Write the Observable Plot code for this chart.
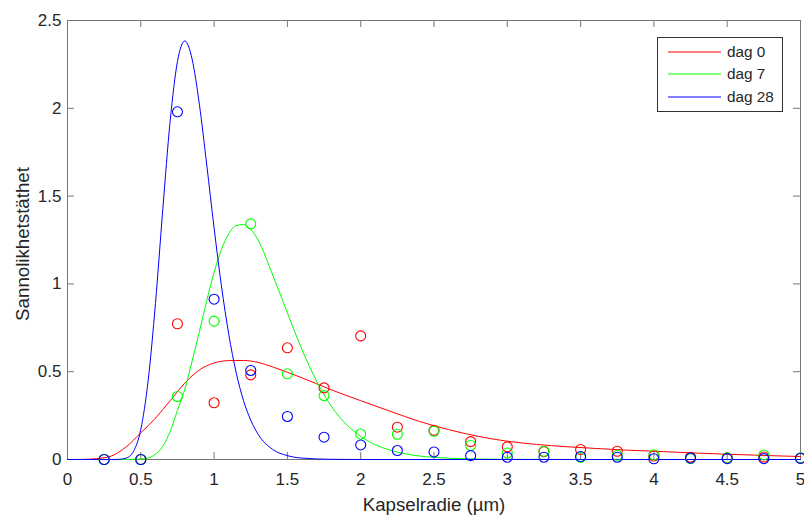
<!DOCTYPE html>
<html>
<head>
<meta charset="utf-8">
<script src="https://cdn.jsdelivr.net/npm/d3@7"></script>
<script src="https://cdn.jsdelivr.net/npm/@observablehq/plot@0.6"></script>
<style>
  body { margin: 0; background: #fff; }
  #wrap { position: relative; width: 804px; height: 516px; }
  #legend { position: absolute; left: 657px; top: 37px; }
</style>
</head>
<body>
<div id="wrap"></div>
<script>
// ---- Data ----
const seriesNames = ["dag 0", "dag 7", "dag 28"];
const seriesColors = ["#ff0000", "#00ff00", "#0000ff"];
const xTicks = [0, 0.5, 1, 1.5, 2, 2.5, 3, 3.5, 4, 4.5, 5];
const yTicks = [0, 0.5, 1, 1.5, 2, 2.5];
const xLabel = "Kapselradie (µm)";
const yLabel = "Sannolikhetstäthet";

// observed points (circles)
const sampleX = [0.25, 0.5, 0.75, 1, 1.25, 1.5, 1.75, 2, 2.25, 2.5, 2.75, 3, 3.25, 3.5, 3.75, 4, 4.25, 4.5, 4.75, 5];
const obsDag0  = [0, 0, 0.773, 0.323, 0.482, 0.636, 0.408, 0.704, 0.184, 0.166, 0.102, 0.072, 0.045, 0.057, 0.047, 0.020, 0.013, 0.009, 0.014, 0.006];
const obsDag7  = [0, 0, 0.359, 0.788, 1.342, 0.488, 0.364, 0.145, 0.144, 0.161, 0.080, 0.037, 0.047, 0.012, 0.024, 0.027, 0.005, 0.009, 0.026, 0.009];
const obsDag28 = [0, 0, 1.980, 0.913, 0.507, 0.245, 0.127, 0.083, 0.051, 0.043, 0.022, 0.013, 0.013, 0.017, 0.013, 0.004, 0.008, 0.005, 0.005, 0.007];

// fitted curves
const fitX0 = [0, 0.1, 0.2, 0.3, 0.4, 0.5, 0.6, 0.7, 0.8, 0.9, 1.0, 1.1, 1.2, 1.3, 1.4, 1.5, 1.6, 1.7, 1.8, 1.9, 2.0, 2.2, 2.4, 2.6, 2.8, 3.0, 3.2, 3.4, 3.6, 3.8, 4.0, 4.25, 4.5, 4.75, 5.0];
const fitY0 = [0, 0.0005, 0.005, 0.02, 0.072, 0.152, 0.235, 0.335, 0.435, 0.51, 0.55, 0.563, 0.564, 0.553, 0.527, 0.497, 0.465, 0.431, 0.397, 0.365, 0.335, 0.275, 0.217, 0.170, 0.132, 0.104, 0.086, 0.073, 0.063, 0.054, 0.047, 0.038, 0.030, 0.023, 0.017];

const fitX7 = [0, 0.4, 0.5, 0.55, 0.6, 0.65, 0.7, 0.75, 0.8, 0.85, 0.9, 0.95, 1.0, 1.05, 1.1, 1.15, 1.2, 1.25, 1.3, 1.4, 1.5, 1.6, 1.7, 1.8, 1.9, 2.0, 2.1, 2.2, 2.3, 2.4, 2.6, 2.8, 3.0, 3.5, 5.0];
const fitY7 = [0, 0, 0.003, 0.009, 0.03, 0.075, 0.16, 0.28, 0.40, 0.56, 0.73, 0.905, 1.066, 1.196, 1.285, 1.332, 1.338, 1.31, 1.25, 1.05, 0.835, 0.625, 0.445, 0.303, 0.202, 0.132, 0.084, 0.053, 0.033, 0.020, 0.0074, 0.0027, 0.001, 0, 0];

const fitX28 = [0, 0.3, 0.35, 0.4, 0.45, 0.5, 0.55, 0.6, 0.65, 0.7, 0.75, 0.775, 0.8, 0.825, 0.85, 0.9, 0.95, 1.0, 1.05, 1.1, 1.15, 1.2, 1.25, 1.3, 1.4, 1.5, 1.6, 1.8, 2.0, 5.0];
const fitY28 = [0, 0, 0.001, 0.008, 0.046, 0.172, 0.448, 0.889, 1.424, 1.925, 2.266, 2.353, 2.384, 2.355, 2.280, 2.020, 1.677, 1.318, 0.989, 0.713, 0.497, 0.337, 0.224, 0.144, 0.057, 0.022, 0.008, 0.001, 0, 0];

// ---- Build tables ----
const obsSeries = [obsDag0, obsDag7, obsDag28];
const points = [];
obsSeries.forEach((vals, s) => vals.forEach((v, i) => points.push({series: seriesNames[s], x: sampleX[i], y: v})));
const fits = [[fitX0, fitY0], [fitX7, fitY7], [fitX28, fitY28]];
const curves = fits.map(([xs, ys], s) => xs.map((x, i) => ({series: seriesNames[s], x, y: ys[i]})));

const W = 804, H = 516;
const mL = 67, mR = 4, mT = 20, mB = 57;
const frameW = W - mL - mR, frameH = H - mT - mB;
const tickLen = 7;
const font = "'Liberation Sans', Arial, Helvetica, sans-serif";
const axisColor = "#262626";
const frameColor = "#777777";

const chart = Plot.plot({
  width: W, height: H,
  marginLeft: mL, marginRight: mR, marginTop: mT, marginBottom: mB,
  style: {fontFamily: font, background: "white", color: axisColor, overflow: "visible"},
  x: {domain: [0, 5]},
  y: {domain: [0, 2.5]},
  marks: [
    Plot.axisX({ticks: xTicks, tickSize: 0, tickPadding: 13, fontSize: 17, label: null, tickFormat: d => String(d), fill: axisColor}),
    Plot.axisY({ticks: yTicks, tickSize: 0, tickPadding: 6, fontSize: 17, label: null, tickFormat: d => String(d), fill: axisColor}),
    Plot.text([xLabel], {text: d => d, frameAnchor: "bottom", textAnchor: "middle", dy: 51, fontSize: 18.7, fill: axisColor}),
    Plot.text([yLabel], {text: d => d, frameAnchor: "left", textAnchor: "middle", lineAnchor: "middle", rotate: -90, dx: -44, dy: 4, fontSize: 18.7, fill: axisColor}),
    // inward ticks on all four sides
    Plot.tickX(xTicks, {x: d => d, insetTop: frameH - tickLen, stroke: frameColor}),
    Plot.tickX(xTicks, {x: d => d, insetBottom: frameH - tickLen, stroke: frameColor}),
    Plot.tickY(yTicks, {y: d => d, insetRight: frameW - tickLen, stroke: frameColor}),
    Plot.tickY(yTicks, {y: d => d, insetLeft: frameW - tickLen, stroke: frameColor}),
    Plot.frame({stroke: frameColor}),
    ...curves.map((c, s) => Plot.line(c, {x: "x", y: "y", stroke: seriesColors[s], strokeWidth: 1, curve: "monotone-x"})),
    ...obsSeries.map((_, s) => Plot.dot(points.filter(p => p.series === seriesNames[s]), {x: "x", y: "y", r: 5, stroke: seriesColors[s], fill: "none", strokeWidth: 1.1}))
  ]
});

const wrap = document.getElementById("wrap");
wrap.appendChild(chart);

// ---- Legend (inside plot, top right) ----
const lw = 125, lh = 74;
const leg = d3.create("svg").attr("id", "legend").attr("width", lw + 1).attr("height", lh + 1);
leg.append("rect").attr("x", 0.5).attr("y", 0.5).attr("width", lw).attr("height", lh)
  .attr("fill", "white").attr("stroke", "#333").attr("stroke-width", 1);
const rowY = [15, 37, 60];
seriesNames.forEach((name, i) => {
  leg.append("line").attr("x1", 11).attr("x2", 64).attr("y1", rowY[i]).attr("y2", rowY[i])
    .attr("stroke", seriesColors[i]).attr("stroke-width", 1);
  leg.append("text").attr("x", 70).attr("y", rowY[i]).attr("dy", "0.35em")
    .attr("font-family", font).attr("font-size", 15.3).attr("fill", axisColor).text(name);
});
wrap.appendChild(leg.node());
</script>
</body>
</html>
